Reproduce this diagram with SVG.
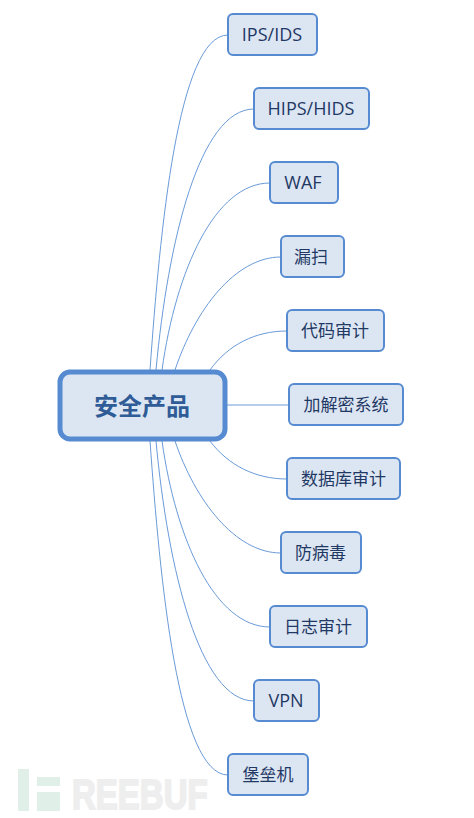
<svg xmlns="http://www.w3.org/2000/svg" width="474" height="818" viewBox="0 0 474 818">
<style>
text{font-family:"Open Sans","Noto Sans CJK SC","Noto Sans",sans-serif;text-anchor:middle;dominant-baseline:central}
.n rect{fill:#dce6f3;stroke:#568bd2;stroke-width:2}
.n text{font-size:17px;fill:#1f3864}
.n text.l{font-size:18px}
#connectors path{fill:none;stroke:#6a9bd8;stroke-width:1}
.wm{fill:#eeeeee;stroke:#eeeeee;stroke-width:1.5;font-family:"Liberation Sans",sans-serif;font-size:33px;font-weight:700;dominant-baseline:auto;text-anchor:start}
</style>
<rect width="474" height="818" fill="#fff"/>
<g id="watermark">
<rect x="18" y="769" width="11" height="42" fill="#e0efe8"/>
<rect x="37" y="777" width="23" height="9" fill="#e0efe8"/>
<rect x="37" y="792" width="23" height="19" fill="#e0efe8"/>
<text transform="translate(72 808.5) scale(1 1.3)" class="wm">REEBUF</text>
</g>
<g id="connectors">
<path d="M150 370C160 230 178 35 228 35"/>
<path d="M156 370C168 240 200 109 254 109"/>
<path d="M162 370C176 270 215 183 270 183"/>
<path d="M175 370C195 310 235 257 281 257"/>
<path d="M210 370C228 345 255 331 287 331"/>
<path d="M225 405H289"/>
<path d="M210 441C228 465 255 479 287 479"/>
<path d="M175 441C195 500 235 553 281 553"/>
<path d="M162 441C176 540 215 627 270 627"/>
<path d="M156 441C168 570 200 701 254 701"/>
<path d="M150 441C160 580 178 775 228 775"/>
</g>
<g id="center" class="n"><rect x="60" y="372" width="165" height="67" rx="10" style="stroke-width:5"/><text x="142" y="405" style="font-size:24px;font-weight:700;fill:#2f5c96">安全产品</text></g>
<g id="n1" class="n"><rect x="228" y="14" width="89" height="41" rx="5"/><text class="l" x="272" y="34">IPS/IDS</text></g>
<g id="n2" class="n"><rect x="254" y="88" width="115" height="41" rx="5"/><text class="l" x="311" y="108">HIPS/HIDS</text></g>
<g id="n3" class="n"><rect x="270" y="162" width="68" height="41" rx="5"/><text class="l" x="303" y="182">WAF</text></g>
<g id="n4" class="n"><rect x="281" y="236" width="63" height="41" rx="5"/><text x="311" y="256">漏扫</text></g>
<g id="n5" class="n"><rect x="287" y="310" width="97" height="41" rx="5"/><text x="335" y="330">代码审计</text></g>
<g id="n6" class="n"><rect x="289" y="384" width="114" height="41" rx="5"/><text x="346" y="404">加解密系统</text></g>
<g id="n7" class="n"><rect x="287" y="458" width="113" height="41" rx="5"/><text x="343.5" y="478">数据库审计</text></g>
<g id="n8" class="n"><rect x="281" y="532" width="80" height="41" rx="5"/><text x="320.5" y="552">防病毒</text></g>
<g id="n9" class="n"><rect x="270" y="606" width="97" height="41" rx="5"/><text x="318" y="626">日志审计</text></g>
<g id="n10" class="n"><rect x="254" y="680" width="65" height="41" rx="5"/><text class="l" x="286" y="700">VPN</text></g>
<g id="n11" class="n"><rect x="228" y="754" width="80" height="41" rx="5"/><text x="268" y="774">堡垒机</text></g>
</svg>
